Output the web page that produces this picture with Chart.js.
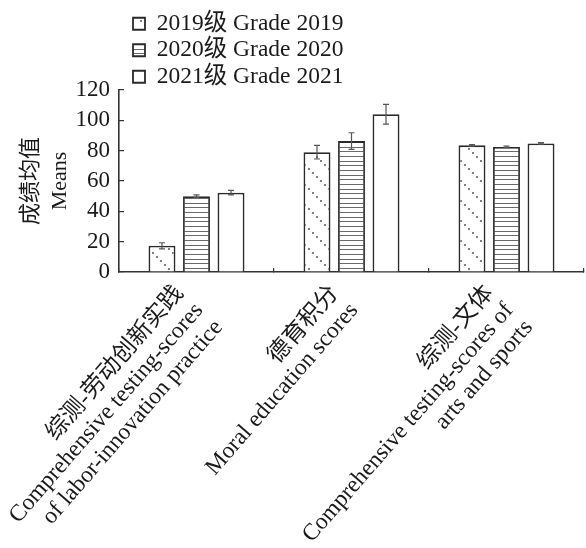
<!DOCTYPE html>
<html>
<head>
<meta charset="utf-8">
<script src="https://cdn.jsdelivr.net/npm/chart.js@4"></script>
<style>
  html, body { margin: 0; padding: 0; background: #fff; }
  #wrap { width: 586px; height: 548px; position: relative; }
</style>
</head>
<body>
<div id="wrap"><canvas id="c"></canvas></div>
<script>
// Score categories (multi-line tick labels)
const categories = [
  ['综测-劳动创新实践', 'Comprehensive testing-scores', 'of labor-innovation practice'],
  ['德育积分', 'Moral education scores'],
  ['综测-文体', 'Comprehensive testing-scores of', 'arts and sports']
];
const seriesNames = ['2019级 Grade 2019', '2020级 Grade 2020', '2021级 Grade 2021'];

// Mean scores per grade
const grade2019 = [17.3, 79.0, 83.5];
const grade2020 = [50.0, 86.3, 82.5];
const grade2021 = [52.3, 104.0, 84.8];

// Error bar half-lengths
const err2019 = [2.0, 4.5, 0.5];
const err2020 = [0.8, 5.5, 0.5];
const err2021 = [1.5, 6.5, 0.5];

const yTicks = [0, 20, 40, 60, 80, 100, 120];

// Fill patterns
function dottedDiagonal() {
  const c = document.createElement('canvas');
  c.width = 20; c.height = 20;
  const g = c.getContext('2d');
  g.fillStyle = '#fff'; g.fillRect(0, 0, 20, 20);
  g.fillStyle = '#444';
  for (let k = 0; k < 5; k++) {
    g.beginPath(); g.arc(k * 4 + 1, k * 4 + 1, 0.9, 0, Math.PI * 2); g.fill();
  }
  return g.createPattern(c, 'repeat');
}
function horizontalLines() {
  const c = document.createElement('canvas');
  c.width = 8; c.height = 14;
  const g = c.getContext('2d');
  g.fillStyle = '#fff'; g.fillRect(0, 0, 8, 14);
  g.fillStyle = '#6a6a6a';
  [2, 7, 11].forEach(r => g.fillRect(0, r, 8, 1));
  return g.createPattern(c, 'repeat');
}

// Draws mean ± error whiskers on top of each bar
const errorBars = {
  id: 'errorBars',
  afterDatasetsDraw(chart, args, opts) {
    const { ctx } = chart;
    const y = chart.scales.y;
    ctx.save();
    ctx.strokeStyle = opts.color;
    ctx.lineWidth = opts.width;
    chart.data.datasets.forEach((ds, i) => {
      const meta = chart.getDatasetMeta(i);
      if (meta.hidden) return;
      meta.data.forEach((bar, j) => {
        const v = ds.data[j], e = ds.errors[j];
        const top = y.getPixelForValue(v + e), bot = y.getPixelForValue(v - e);
        const x = bar.x, h = opts.cap / 2;
        ctx.beginPath();
        ctx.moveTo(x, top); ctx.lineTo(x, bot);
        ctx.moveTo(x - h, top); ctx.lineTo(x + h, top);
        ctx.moveTo(x - h, bot); ctx.lineTo(x + h, bot);
        ctx.stroke();
      });
    });
    ctx.restore();
  }
};

// Shifts the legend block to the right of the axis line
const legendInset = {
  id: 'legendInset',
  afterLayout(chart, args, opts) {
    const l = chart.legend;
    if (l) { l.left += opts.dx; l.right += opts.dx; }
  }
};

Chart.defaults.font.family = "'Liberation Serif', 'Noto Sans CJK SC', serif";
Chart.defaults.color = '#1a1a1a';

const barStyle = {
  borderColor: '#2a2a2a',
  borderWidth: 1.8,
  categoryPercentage: 0.668,
  barPercentage: 0.78
};

new Chart(document.getElementById('c'), {
  type: 'bar',
  data: {
    labels: categories,
    datasets: [
      Object.assign({ label: seriesNames[0], data: grade2019, errors: err2019, backgroundColor: dottedDiagonal() }, barStyle),
      Object.assign({ label: seriesNames[1], data: grade2020, errors: err2020, backgroundColor: horizontalLines() }, barStyle),
      Object.assign({ label: seriesNames[2], data: grade2021, errors: err2021, backgroundColor: '#fff' }, barStyle)
    ]
  },
  plugins: [errorBars, legendInset],
  options: {
    responsive: true,
    maintainAspectRatio: false,
    animation: false,
    layout: { padding: { top: 9, left: 0, right: 2, bottom: 0 } },
    plugins: {
      tooltip: { enabled: false },
      errorBars: { color: '#555', width: 1.2, cap: 6 },
      legendInset: { dx: 11 },
      legend: {
        position: 'top',
        align: 'start',
        fullSize: false,
        maxHeight: 81,
        labels: {
          boxWidth: 12,
          boxHeight: 12,
          padding: 3,
          color: '#1a1a1a',
          font: { size: 23.5 },
          generateLabels(chart) {
            const items = Chart.defaults.plugins.legend.labels.generateLabels(chart);
            // trailing spaces widen each entry so the entries stack one per row
            items.forEach(it => { it.text = it.text + '          '; });
            return items;
          }
        }
      }
    },
    scales: {
      x: {
        grid: { display: true, drawOnChartArea: false, drawTicks: true, tickLength: -4, color: '#333', lineWidth: 1.2, offset: true },
        border: { display: true, color: '#333', width: 1.6 },
        ticks: {
          autoSkip: false,
          maxRotation: 49,
          minRotation: 49,
          padding: 13,
          labelOffset: -17,
          color: '#1a1a1a',
          font: { size: 23.5, lineHeight: 1.106 }
        },
        afterFit(s) { s.height = 276; s.paddingLeft = 0; s.paddingRight = 0; }
      },
      y: {
        min: yTicks[0],
        max: yTicks[yTicks.length - 1],
        ticks: { autoSkip: false, stepSize: yTicks[1] - yTicks[0], padding: 14, color: '#1a1a1a', font: { size: 23 } },
        grid: { drawOnChartArea: false, drawTicks: true, tickLength: -5, color: '#333', lineWidth: 1.2 },
        border: { display: true, color: '#333', width: 1.6 },
        title: {
          display: true,
          text: ['成绩均值', 'Means'],
          color: '#1a1a1a',
          font: { size: 22, lineHeight: 1.3 },
          padding: { top: 17, bottom: 0 }
        },
        afterFit(s) { s.width = 119; }
      }
    }
  }
});
</script>
</body>
</html>
